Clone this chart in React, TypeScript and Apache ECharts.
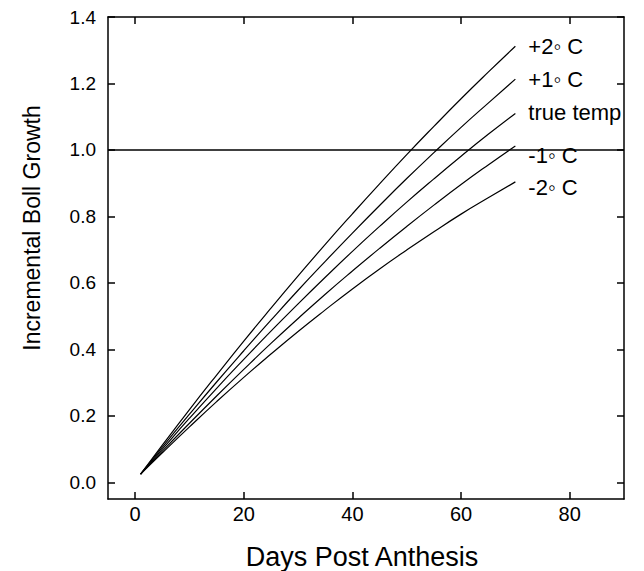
import React, { useEffect, useRef } from "react";
import * as echarts from "echarts";

const days = [1, 5, 10, 15, 20, 25, 30, 35, 40, 45, 50, 55, 60, 65, 70];
const plus2 = [0.025, 0.112, 0.219, 0.323, 0.425, 0.524, 0.621, 0.716, 0.808, 0.898, 0.986, 1.071, 1.154, 1.234, 1.312];
const plus1 = [0.025, 0.106, 0.205, 0.302, 0.396, 0.488, 0.578, 0.665, 0.750, 0.833, 0.914, 0.992, 1.068, 1.141, 1.213];
const trueTemp = [0.025, 0.1, 0.193, 0.283, 0.37, 0.455, 0.537, 0.617, 0.695, 0.770, 0.843, 0.913, 0.981, 1.047, 1.11];
const minus1 = [0.025, 0.094, 0.178, 0.26, 0.34, 0.418, 0.493, 0.566, 0.636, 0.704, 0.77, 0.834, 0.896, 0.955, 1.012];
const minus2 = [0.025, 0.089, 0.167, 0.243, 0.316, 0.386, 0.454, 0.519, 0.582, 0.642, 0.699, 0.754, 0.807, 0.856, 0.904];

const seriesNames = ["+2\u25E6 C", "+1\u25E6 C", "true temp", "-1\u25E6 C", "-2\u25E6 C"];
const seriesValues = [plus2, plus1, trueTemp, minus1, minus2];
const labelOffsets = [[0, 0], [0, 0], [0, -1], [0, 10], [0, 6]];

const xTicks = [0, 20, 40, 60, 80];
const yTicks = [0, 0.2, 0.4, 0.6, 0.8, 1.0, 1.2, 1.4];
const referenceLevel = 1.0;

const xTitle = "Days Post Anthesis";
const yTitle = "Incremental Boll Growth";

const FONT = "Liberation Sans, Arial, Helvetica, sans-serif";

export default function App() {
  const ref = useRef<HTMLDivElement>(null);
  useEffect(() => {
    if (!ref.current) return;
    const chart = echarts.init(ref.current, null, { renderer: "svg" });
    const axisLine = { show: true, onZero: false, lineStyle: { color: "#000", width: 1.5 } };
    const option: any = {
      animation: false,
      backgroundColor: "#fff",
      grid: { left: 108, right: 20, top: 17, bottom: 72, containLabel: false },
      xAxis: [
        {
          type: "value",
          position: "bottom",
          min: -5,
          max: 90,
          axisLine,
          splitLine: { show: false },
          axisTick: { show: true, inside: true, length: 7, customValues: xTicks, lineStyle: { color: "#000", width: 1.5 } },
          axisLabel: { customValues: xTicks, color: "#000", fontSize: 20, fontFamily: FONT, margin: 5 },
        },
        {
          type: "value",
          position: "top",
          min: -5,
          max: 90,
          axisLine,
          splitLine: { show: false },
          axisTick: { show: true, inside: true, length: 7, customValues: xTicks, lineStyle: { color: "#000", width: 1.5 } },
          axisLabel: { show: false },
        },
      ],
      yAxis: [
        {
          type: "value",
          position: "left",
          min: -0.05,
          max: 1.4,
          axisLine,
          splitLine: { show: false },
          axisTick: { show: true, inside: true, length: 7, customValues: yTicks, lineStyle: { color: "#000", width: 1.5 } },
          axisLabel: {
            customValues: yTicks,
            color: "#000",
            fontSize: 19,
            fontFamily: FONT,
            margin: 12,
            formatter: (v: number) => v.toFixed(1),
          },
        },
        {
          type: "value",
          position: "right",
          min: -0.05,
          max: 1.4,
          axisLine,
          splitLine: { show: false },
          axisTick: { show: true, inside: true, length: 7, customValues: yTicks, lineStyle: { color: "#000", width: 1.5 } },
          axisLabel: { show: false },
        },
      ],
      series: seriesNames.map((name, i) => ({
        name,
        type: "line",
        xAxisIndex: 0,
        yAxisIndex: 0,
        data: days.map((d, j) => [d, seriesValues[i][j]]),
        smooth: true,
        showSymbol: false,
        symbol: "none",
        lineStyle: { color: "#000", width: 1.2 },
        endLabel: {
          show: true,
          formatter: name,
          distance: 13,
          offset: labelOffsets[i],
          color: "#000",
          fontSize: 22,
          fontFamily: FONT,
        },
        markLine:
          i === 0
            ? {
                silent: true,
                symbol: "none",
                label: { show: false },
                lineStyle: { color: "#000", type: "solid", width: 1.5 },
                data: [{ yAxis: referenceLevel }],
              }
            : undefined,
      })),
      graphic: [
        {
          type: "text",
          x: 32,
          y: 228,
          rotation: Math.PI / 2,
          style: {
            text: yTitle,
            font: `23px ${FONT}`,
            fill: "#000",
            textAlign: "center",
            textVerticalAlign: "middle",
          },
        },
        {
          type: "text",
          x: 362,
          y: 557,
          style: {
            text: xTitle,
            font: `27px ${FONT}`,
            fill: "#000",
            textAlign: "center",
            textVerticalAlign: "middle",
          },
        },
      ],
    };
    chart.setOption(option);
    return () => chart.dispose();
  }, []);
  return (
    <div
      ref={ref}
      style={{ position: "fixed", left: 0, top: 0, width: 644, height: 571, background: "#fff" }}
    />
  );
}
